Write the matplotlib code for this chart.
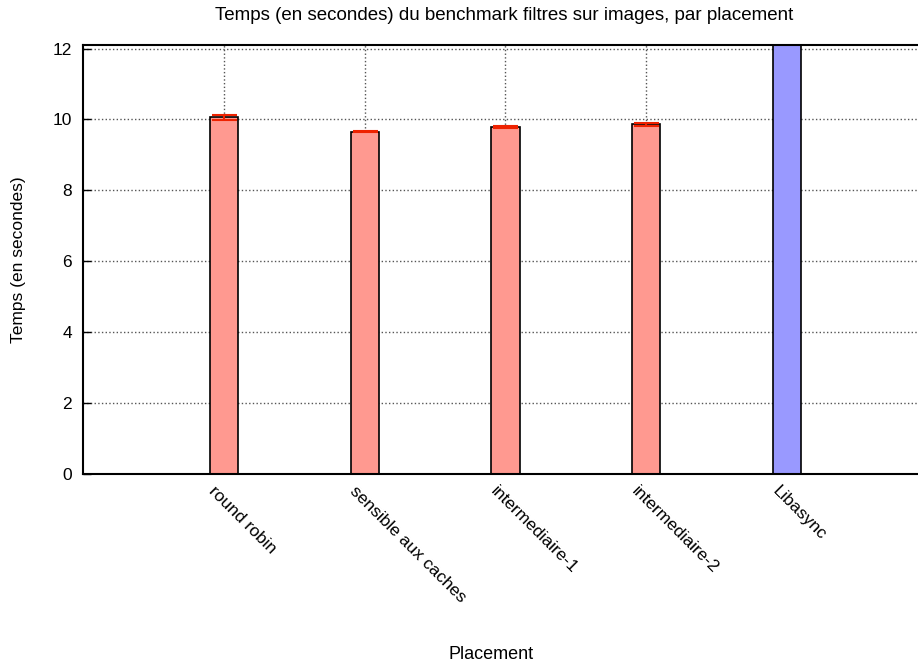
import matplotlib
matplotlib.use('Agg')
import matplotlib.pyplot as plt
from matplotlib.transforms import ScaledTranslation

# temps moyens et écarts par placement
placements = ['round robin', 'sensible aux caches', 'intermediaire-1',
              'intermediaire-2', 'Libasync']
temps = [10.06, 9.66, 9.80, 9.86, 13.0]
erreurs = [0.07, 0.02, 0.03, 0.04, 0.0]
couleurs = ['#ff9990', '#ff9990', '#ff9990', '#ff9990', '#9999ff']

plt.rcParams['font.family'] = ['Liberation Sans', 'DejaVu Sans']
plt.rcParams['font.size'] = 12.5

fig = plt.figure(figsize=(9.18, 6.65), dpi=100)
ax = fig.add_axes([0.0904, 0.2872, 0.9096, 0.6451])

x = list(range(1, len(placements) + 1))
ax.bar(x, temps, width=0.2, color=couleurs, edgecolor='black', linewidth=1.2,
       zorder=2)
ax.errorbar(x[:4], temps[:4], yerr=erreurs[:4], fmt='none', ecolor='#ee2200',
            elinewidth=1.5, capsize=9, capthick=1.5, zorder=3)

ax.set_xlim(0, 5.93)
ax.set_ylim(0, 12.1)
ax.set_yticks([0, 2, 4, 6, 8, 10, 12])
ax.set_xticks(x)
ax.set_xticklabels(placements, rotation=-45, ha='left', va='top',
                   rotation_mode='anchor')
ax.tick_params(direction='in', length=6, width=1, pad=8)
ax.tick_params(axis='x', pad=7)
decalage = ScaledTranslation(-5 / 72, 0, fig.dpi_scale_trans)
for lab in ax.get_xticklabels():
    lab.set_transform(lab.get_transform() + decalage)
ax.grid(True, linestyle=':', color='#555555', linewidth=1, zorder=1)
ax.set_axisbelow(True)

for cote in ['left', 'bottom', 'top']:
    ax.spines[cote].set_linewidth(1.5)
ax.spines['right'].set_visible(False)

fig.text(0.549, 0.976, 'Temps (en secondes) du benchmark filtres sur images, par placement',
         ha='center', va='center', fontsize=13.5)
fig.text(0.535, 0.0165, 'Placement', ha='center', va='center', fontsize=13)
fig.text(0.02, 0.609, 'Temps (en secondes)', rotation=90, ha='center',
         va='center', fontsize=12.5)

fig.savefig('out.png', dpi=100)
